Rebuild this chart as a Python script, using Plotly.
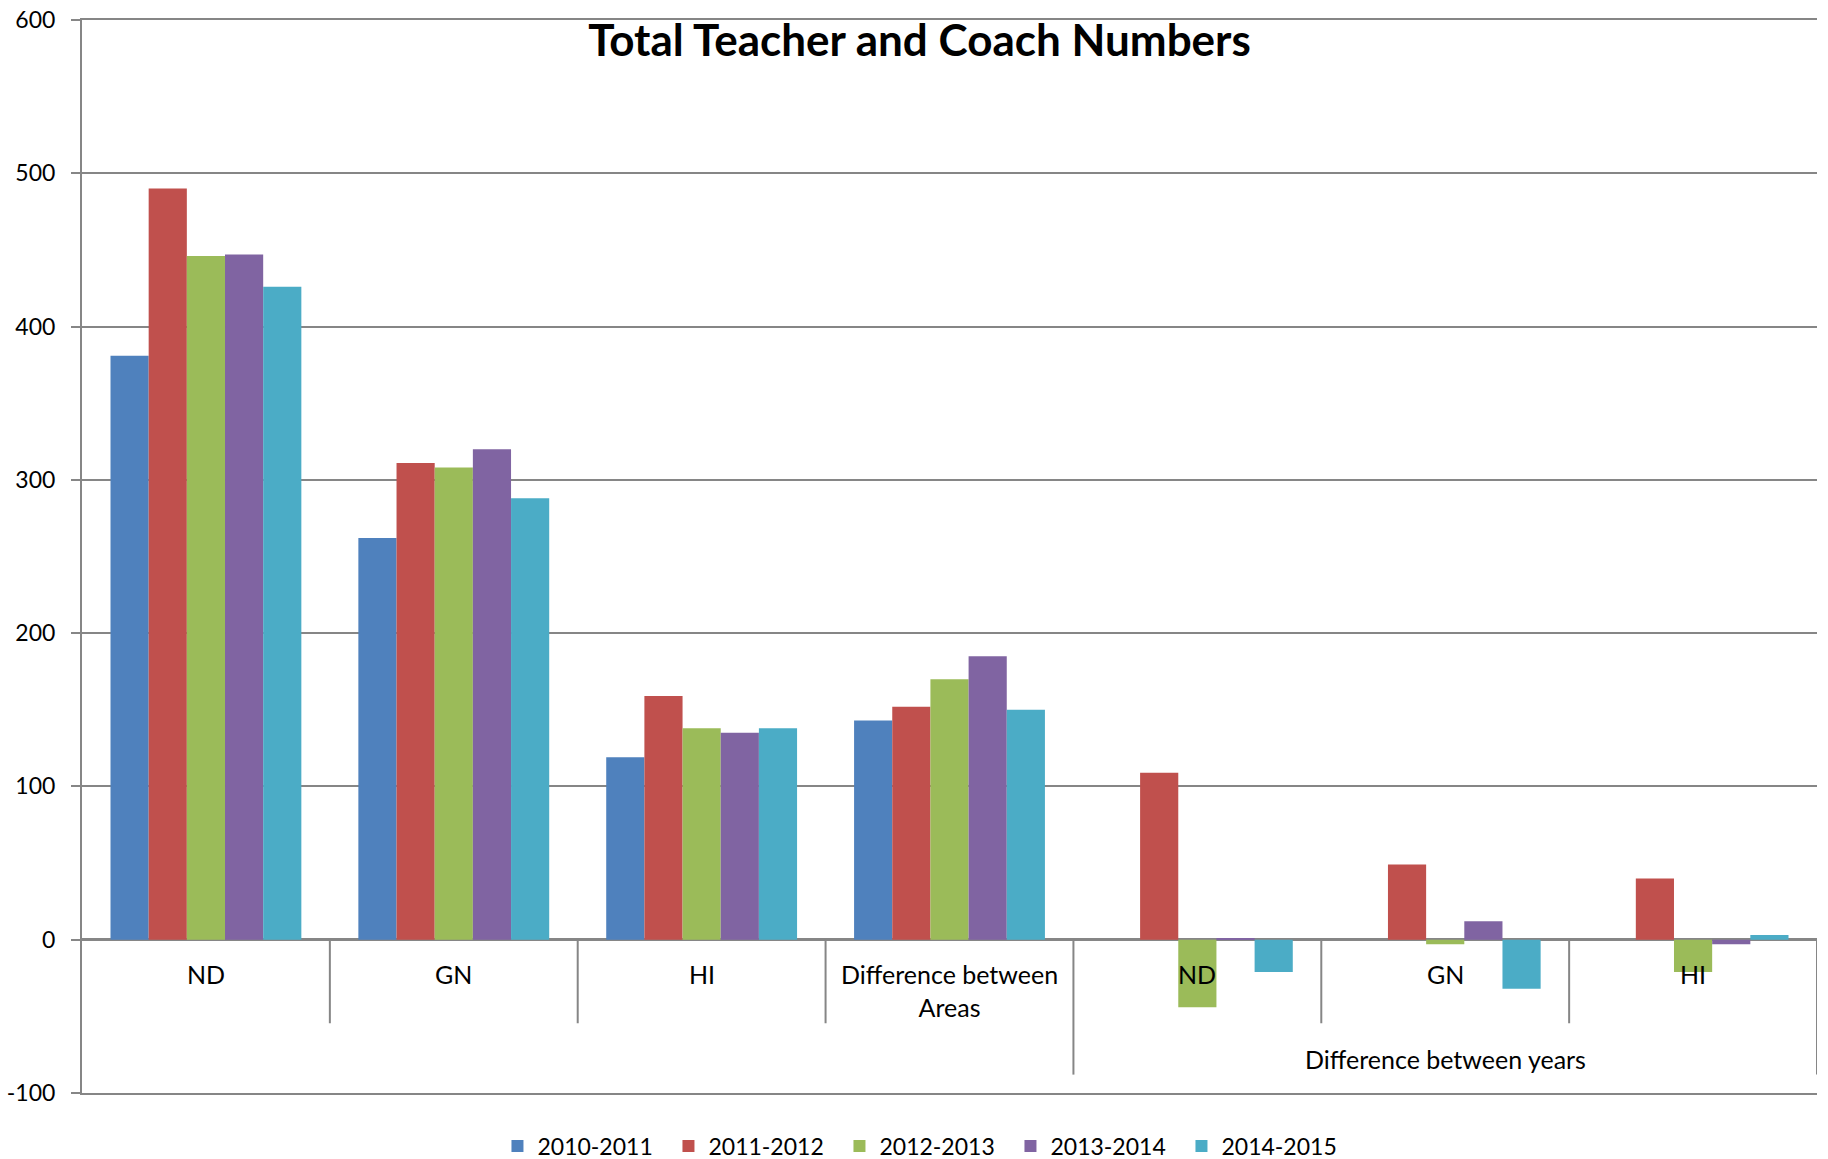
import plotly.graph_objects as go

# categories (x positions 0..6) and the outer group label
categories = ["ND", "GN", "HI", "Difference between<br>Areas", "ND", "GN", "HI"]
group_label = "Difference between years"

series_names = ["2010-2011", "2011-2012", "2012-2013", "2013-2014", "2014-2015"]
colors = ["#4F81BD", "#C0504D", "#9BBB59", "#8064A2", "#4BACC6"]

vals_2010_2011 = [381, 262, 119, 143, None, None, None]
vals_2011_2012 = [490, 311, 159, 152, 109, 49, 40]
vals_2012_2013 = [446, 308, 138, 170, -44, -3, -21]
vals_2013_2014 = [447, 320, 135, 185, 1, 12, -3]
vals_2014_2015 = [426, 288, 138, 150, -21, -32, 3]

all_vals = [vals_2010_2011, vals_2011_2012, vals_2012_2013, vals_2013_2014, vals_2014_2015]

y_ticks = [-100, 0, 100, 200, 300, 400, 500, 600]
y_ticktext = ["-100", "0", "100", "200", "300", "400", "500", "600"]

grid = '#868686'
font = 'Lato, Open Sans, sans-serif'

fig = go.Figure()

x_pos = list(range(len(categories)))
for name, col, vals in zip(series_names, colors, all_vals):
    fig.add_trace(go.Bar(
        x=x_pos, y=vals,
        name=name,
        marker=dict(color=col, line=dict(width=0)),
    ))

# category labels under the zero line
annotations = []
for i, lab in enumerate(categories):
    annotations.append(dict(
        x=i, y=0, xref='x', yref='y',
        text=lab, showarrow=False,
        yanchor='top', yshift=-17,
        font=dict(family=font, size=25, color='black'),
    ))
annotations.append(dict(
    x=5, y=0, xref='x', yref='y',
    text=group_label, showarrow=False,
    yanchor='middle', yshift=-119,
    font=dict(family=font, size=25, color='black'),
))

# dividers between categories, longer at the outer group boundaries
shapes = []
for b in [0.5, 1.5, 2.5, 4.5, 5.5]:
    shapes.append(dict(type='line', xref='x', yref='y', x0=b, x1=b, y0=0, y1=-54.5,
                       line=dict(color=grid, width=2)))
for b in [3.5, 6.5]:
    shapes.append(dict(type='line', xref='x', yref='y', x0=b, x1=b, y0=0, y1=-88,
                       line=dict(color=grid, width=2)))

fig.update_layout(
    width=1828, height=1159,
    barmode='group',
    bargap=0.23, bargroupgap=0,
    plot_bgcolor='white', paper_bgcolor='white',
    margin=dict(l=82, r=11, t=20, b=66, autoexpand=False),
    title=dict(
        text='<b>Total Teacher and Coach Numbers</b>',
        x=0.503, xanchor='center', xref='container',
        y=1 - 41 / 1159, yanchor='middle', yref='container',
        font=dict(family=font, size=44, color='black'),
    ),
    legend=dict(
        orientation='h',
        x=0.506, xanchor='center', xref='container',
        y=-53 / 1073, yanchor='middle', yref='paper',
        font=dict(family=font, size=23, color='black'),
        entrywidth=126, entrywidthmode='pixels',
        itemsizing='constant',
    ),
    annotations=annotations,
    shapes=shapes,
)

fig.update_xaxes(
    range=[-0.5, 6.5], automargin=False,
    showticklabels=False, showgrid=False,
    showline=True, mirror=True, linecolor=grid, linewidth=2,
    ticks='', zeroline=False,
)

fig.update_yaxes(
    range=[-100, 600], automargin=False,
    tickmode='array', tickvals=y_ticks, ticktext=y_ticktext,
    showgrid=True, gridcolor=grid, gridwidth=2,
    zeroline=True, zerolinecolor=grid, zerolinewidth=3,
    showline=True, linecolor=grid, linewidth=2,
    ticks='outside', ticklen=9, tickcolor=grid, tickwidth=2,
    ticklabelstandoff=11,
    tickfont=dict(family=font, size=23, color='black'),
)

# remove the default page margin so the figure sits at the window corner
fig.write_html("out.html",
               config={'displayModeBar': False},
               post_script="document.body.style.margin='0';document.body.style.overflow='hidden';")
